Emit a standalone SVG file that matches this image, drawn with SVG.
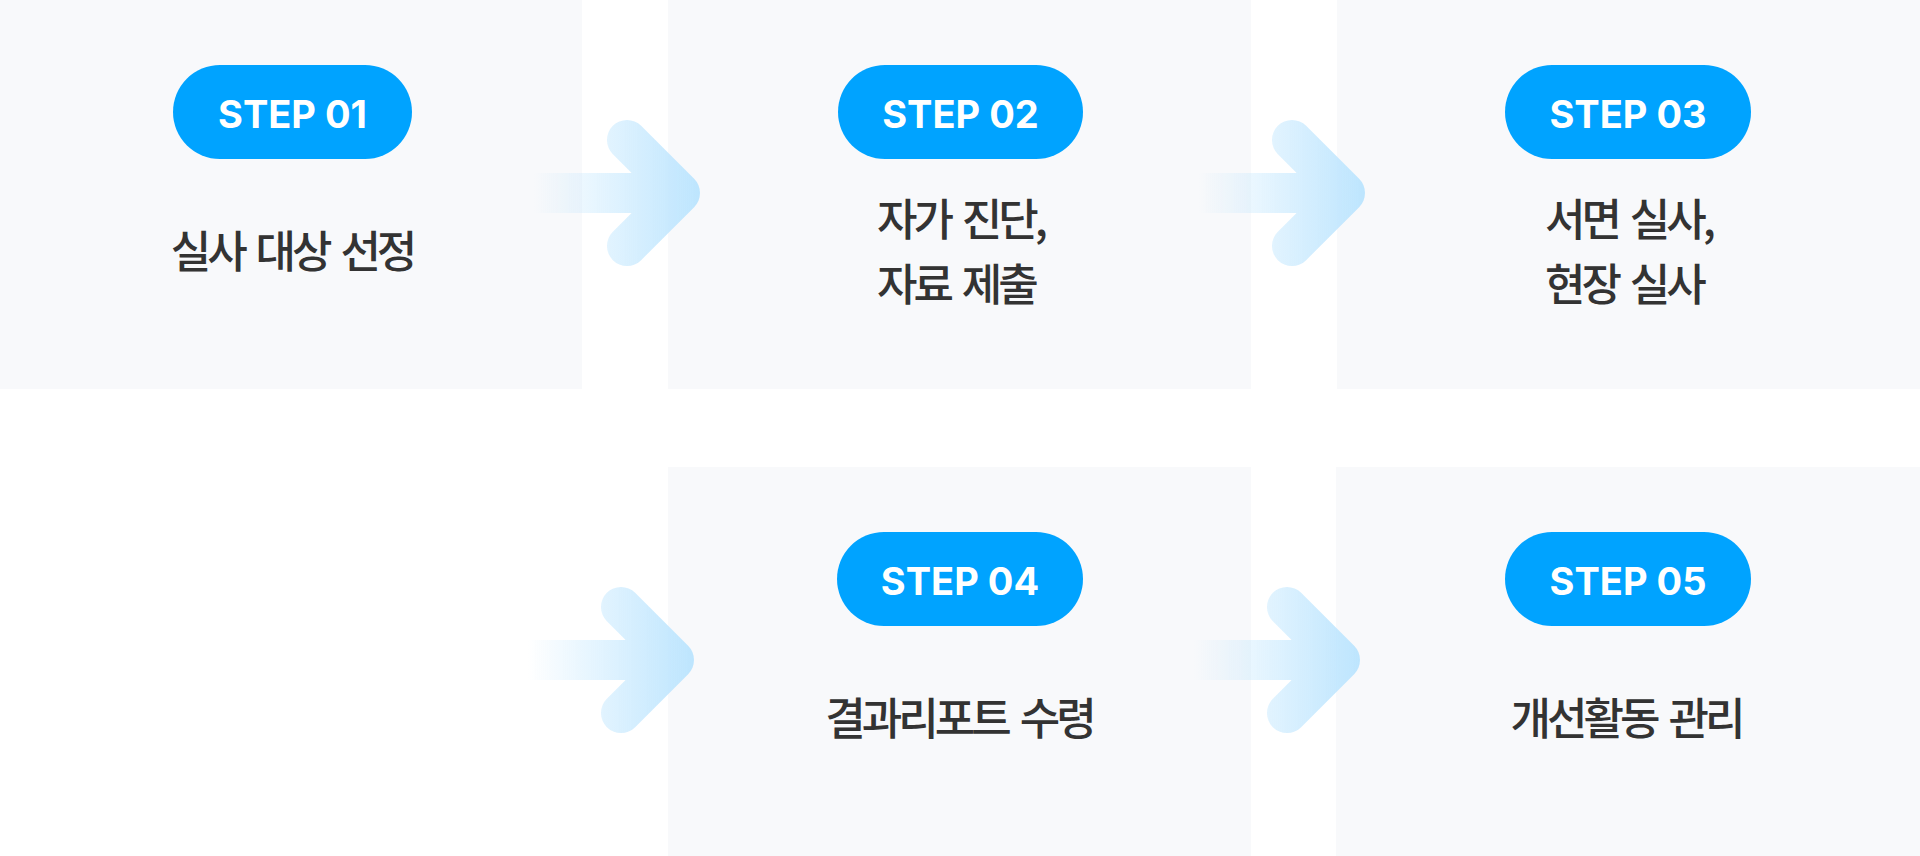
<svg xmlns="http://www.w3.org/2000/svg" width="1920" height="856" viewBox="0 0 1920 856">
  <style>
    .panel { fill: #f8f9fb; }
    .pill { fill: #00a3ff; }
    .step { font-family: Inter, "Liberation Sans", sans-serif; font-weight: 700; font-size: 38px; fill: #ffffff; text-anchor: middle; }
    .label { font-family: "Noto Sans CJK KR", "Noto Sans", sans-serif; font-weight: 500; font-size: 44px; fill: #333333; letter-spacing: -4px; word-spacing: 6px; }
    .mid { text-anchor: middle; }
  </style>
  <defs>
    <linearGradient id="arrowGrad" gradientUnits="userSpaceOnUse" x1="-93" y1="0" x2="73" y2="0">
      <stop offset="0" stop-color="#bde5fe" stop-opacity="0"/>
      <stop offset="1" stop-color="#bde5fe" stop-opacity="1"/>
    </linearGradient>
    <mask id="arrowMask" maskUnits="userSpaceOnUse" x="-110" y="-80" width="200" height="160">
      <rect x="-100" y="-20" width="155" height="40" fill="#ffffff"/>
      <polyline points="0,-53 53,0 0,53" fill="none" stroke="#ffffff" stroke-width="40" stroke-linecap="round" stroke-linejoin="round"/>
    </mask>
    <g id="arrow">
      <rect x="-105" y="-78" width="190" height="156" fill="url(#arrowGrad)" mask="url(#arrowMask)"/>
    </g>
  </defs>
  <rect width="1920" height="856" fill="#ffffff"/>

  <g id="step1">
    <rect class="panel" x="0" y="0" width="582" height="389"/>
    <rect class="pill" x="173" y="65" width="239" height="94" rx="47"/>
    <text class="step" x="292.5" y="128">STEP 01</text>
    <text class="label mid" x="292" y="268">실사 대상 선정</text>
  </g>
  <g id="step2">
    <rect class="panel" x="668" y="0" width="583" height="389"/>
    <rect class="pill" x="838" y="65" width="245" height="94" rx="47"/>
    <text class="step" x="960.5" y="128">STEP 02</text>
    <text class="label" x="877" y="236">자가 진단,</text>
    <text class="label" x="877" y="301">자료 제출</text>
  </g>
  <g id="step3">
    <rect class="panel" x="1337" y="0" width="583" height="389"/>
    <rect class="pill" x="1505" y="65" width="246" height="94" rx="47"/>
    <text class="step" x="1628" y="128">STEP 03</text>
    <text class="label" x="1545" y="236">서면 실사,</text>
    <text class="label" x="1545" y="301">현장 실사</text>
  </g>
  <g id="step4">
    <rect class="panel" x="668" y="467" width="583" height="389"/>
    <rect class="pill" x="837" y="532" width="246" height="94" rx="47"/>
    <text class="step" x="960" y="595">STEP 04</text>
    <text class="label mid" x="959" y="735">결과리포트 수령</text>
  </g>
  <g id="step5">
    <rect class="panel" x="1336" y="467" width="584" height="389"/>
    <rect class="pill" x="1505" y="532" width="246" height="94" rx="47"/>
    <text class="step" x="1628" y="595">STEP 05</text>
    <text class="label mid" x="1626" y="735">개선활동 관리</text>
  </g>

  <g id="connectors">
    <use href="#arrow" transform="translate(627,193)"/>
    <use href="#arrow" transform="translate(1292,193)"/>
    <use href="#arrow" transform="translate(621,660)"/>
    <use href="#arrow" transform="translate(1287,660)"/>
  </g>
</svg>
